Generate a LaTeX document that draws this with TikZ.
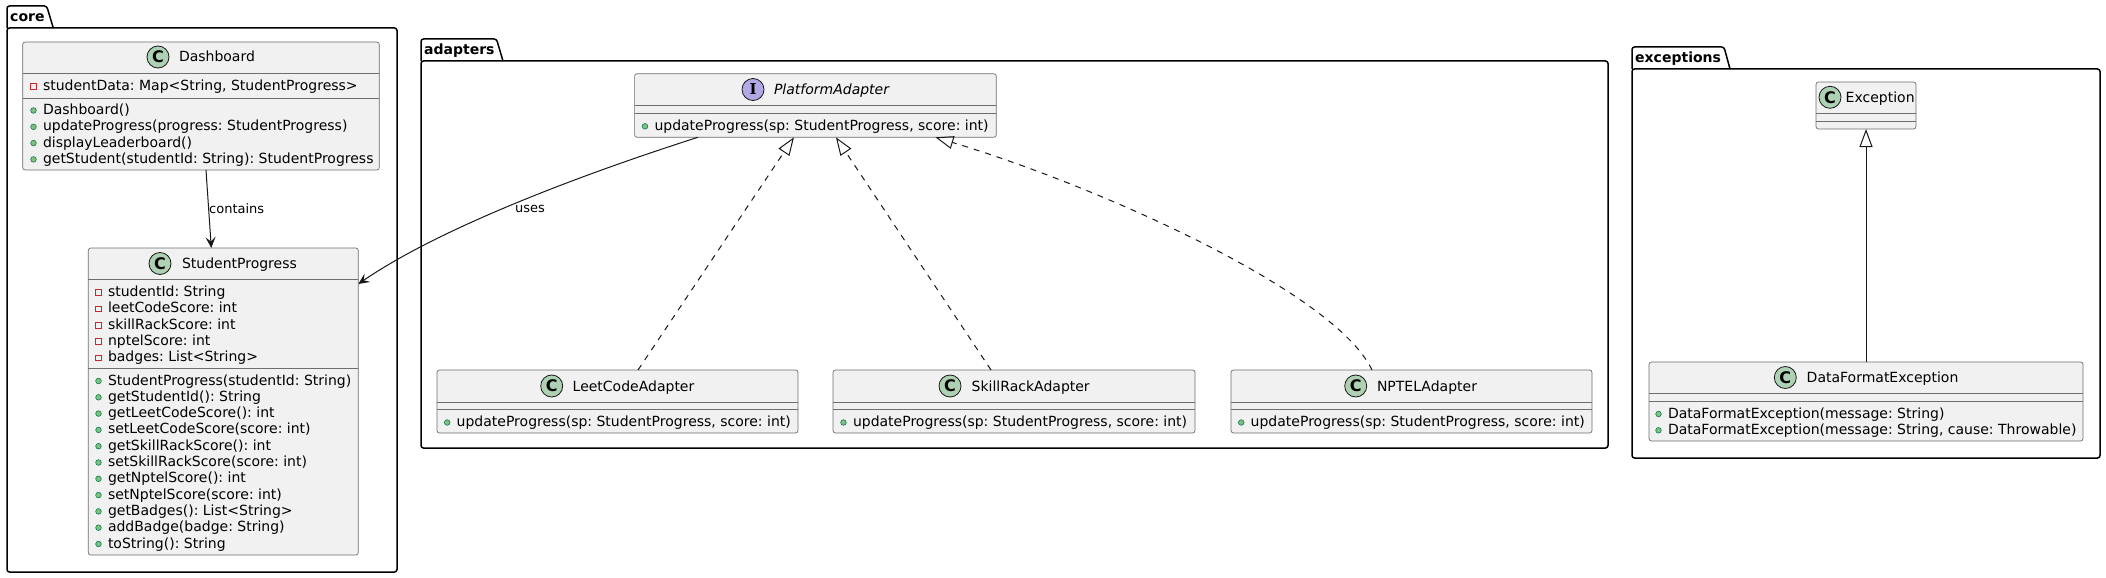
\documentclass[tikz,border=0pt]{standalone}
\usepackage{fontspec}
\setmainfont{DejaVu Sans}
\newfontfamily\badgeserif{DejaVu Serif}
\usetikzlibrary{arrows.meta,calc,fit}
\definecolor{boxfill}{HTML}{F1F1F1}
\definecolor{boxline}{HTML}{181818}
\definecolor{boxedge}{HTML}{6E6E6E}
\definecolor{cgreen}{HTML}{ADD1B2}
\definecolor{ipurple}{HTML}{B4A7E5}
\definecolor{privred}{HTML}{C82930}
\definecolor{pubfill}{HTML}{84BE84}
\definecolor{publine}{HTML}{038048}
\newcounter{umlmem}
\newcommand\umlbox[5]{\node[classbox, fit={(#2,#3) (#4,#5)}] (#1) {};}
\newcommand\umlsep[3]{\draw[sepline] (#1,#3) -- (#2,#3);}
\newcommand\pubm[3]{\stepcounter{umlmem}%
  \filldraw[pubmark] (#1-9.5,#2-4) circle (2.8pt);%
  \node[member] (mem\arabic{umlmem}) at (#1,#2) {#3};}
\newcommand\privm[3]{\stepcounter{umlmem}%
  \draw[privmark] (#1-12.3,#2-6.8) rectangle (#1-6.7,#2-1.2);%
  \node[member] (mem\arabic{umlmem}) at (#1,#2) {#3};}
\frenchspacing
\begin{document}
\begin{tikzpicture}[x=1pt,y=-1pt,
  classbox/.style={draw=boxedge, fill=boxfill, line width=0.7pt, rounded corners=2.5pt, inner sep=0pt, outer sep=0pt},
  sepline/.style={draw=boxedge, line width=0.7pt},
  member/.style={anchor=base west, inner sep=0pt, outer sep=0pt, font=\fontsize{14}{16.3}\selectfont\frenchspacing, text=black},
  pkgtitle/.style={anchor=base west, inner sep=0pt, font=\bfseries\fontsize{14}{16}\selectfont},
  lbl/.style={anchor=base west, inner sep=0pt, font=\fontsize{13}{15}\selectfont},
  pkg/.style={draw=black, line width=1.5pt, rounded corners=2.5pt},
  badge/.style={circle, draw=boxline, line width=0.8pt, minimum size=22pt, inner sep=0pt, font=\bfseries\fontsize{16}{16}\selectfont},
  cbadge/.style={badge, fill=cgreen},
  ibadge/.style={badge, fill=ipurple, font=\badgeserif\bfseries\fontsize{15}{15}\selectfont},
  pubmark/.style={fill=pubfill, draw=publine, line width=0.6pt},
  privmark/.style={draw=privred, line width=0.8pt},
  assoc/.style={draw=boxline, line width=1pt, -{Stealth[length=11pt, width=10pt, inset=4.5pt]}},
  realize/.style={draw=boxline, line width=1pt, dash pattern=on 6pt off 6pt, -{Triangle[open, length=18pt, width=13pt]}},
  extends/.style={draw=boxline, line width=1pt, -{Triangle[open, length=18pt, width=13pt]}}
]
\useasboundingbox (0,0) rectangle (2106,578);

% ---------- packages ----------
\draw[pkg] (7,28) rectangle (397,572);
\draw[pkg] (7,28) -- (7,6) -- (46.7,6) -- (53.3,28);
\node[pkgtitle] (coreT) at (10,22) {core};

\draw[pkg] (421,61) rectangle (1608,448);
\draw[pkg] (421,61) -- (421,39) -- (496.5,39) -- (503,61);
\node[pkgtitle] (adaptT) at (424,55) {adapters};

\draw[pkg] (1632,69) rectangle (2100,458);
\draw[pkg] (1632,69) -- (1632,47) -- (1724,47) -- (1730,69);
\node[pkgtitle] (excT) at (1635,63) {exceptions};

% ---------- Dashboard ----------
\umlbox{dash}{22.7}{42}{379.3}{170}
\umlsep{22.7}{379.3}{73}
\umlsep{22.7}{379.3}{98}
\node[cbadge] (dashC) at (158,57) {C};
\node[member] (dashT) at (179,62) {Dashboard};
\privm{43}{90.5}{studentData: Map<String, StudentProgress>}
\pubm{43}{114.5}{Dashboard()}
\pubm{43}{130.8}{updateProgress(progress: StudentProgress)}
\pubm{43}{147.1}{displayLeaderboard()}
\pubm{43}{163.4}{getStudent(studentId: String): StudentProgress}

% ---------- StudentProgress ----------
\umlbox{sp}{88.3}{248}{358.3}{555}
\umlsep{88.3}{358.3}{279}
\umlsep{88.3}{358.3}{368}
\node[cbadge] (spC) at (160,263.5) {C};
\node[member] (spT) at (182,268.5) {StudentProgress};
\privm{108}{296.5}{studentId: String}
\privm{108}{312.8}{leetCodeScore: int}
\privm{108}{329.1}{skillRackScore: int}
\privm{108}{345.4}{nptelScore: int}
\privm{108}{361.7}{badges: List<String>}
\pubm{108}{385}{StudentProgress(studentId: String)}
\pubm{108}{401.3}{getStudentId(): String}
\pubm{108}{417.6}{getLeetCodeScore(): int}
\pubm{108}{433.9}{setLeetCodeScore(score: int)}
\pubm{108}{450.2}{getSkillRackScore(): int}
\pubm{108}{466.5}{setSkillRackScore(score: int)}
\pubm{108}{482.8}{getNptelScore(): int}
\pubm{108}{499.1}{setNptelScore(score: int)}
\pubm{108}{515.4}{getBadges(): List<String>}
\pubm{108}{531.7}{addBadge(badge: String)}
\pubm{108}{548}{toString(): String}

% ---------- PlatformAdapter ----------
\umlbox{pa}{634.6}{73.7}{996.3}{137.3}
\umlsep{634.6}{996.3}{105.3}
\umlsep{634.6}{996.3}{113.3}
\node[ibadge] (paI) at (753,89.5) {I};
\node[member, font=\itshape\fontsize{14}{16.3}\selectfont] (paT) at (774,94.5) {PlatformAdapter};
\pubm{654.5}{130.3}{updateProgress(sp: StudentProgress, score: int)}

% ---------- adapters ----------
\umlbox{leet}{437}{370}{798}{433}
\umlsep{437}{798}{402}
\umlsep{437}{798}{409}
\node[cbadge] (leetC) at (551.7,386) {C};
\node[member] (leetT) at (572.7,391) {LeetCodeAdapter};
\pubm{456.7}{426.5}{updateProgress(sp: StudentProgress, score: int)}

\umlbox{skill}{833}{370}{1195}{433}
\umlsep{833}{1195}{402}
\umlsep{833}{1195}{409}
\node[cbadge] (skillC) at (950,386) {C};
\node[member] (skillT) at (971.7,391) {SkillRackAdapter};
\pubm{853}{426.5}{updateProgress(sp: StudentProgress, score: int)}

\umlbox{nptel}{1231}{370}{1592}{433}
\umlsep{1231}{1592}{402}
\umlsep{1231}{1592}{409}
\node[cbadge] (nptelC) at (1355.7,386) {C};
\node[member] (nptelT) at (1377,391) {NPTELAdapter};
\pubm{1250.7}{426.5}{updateProgress(sp: StudentProgress, score: int)}

% ---------- exceptions ----------
\umlbox{exc}{1816}{82}{1916}{129}
\umlsep{1816}{1916}{113}
\umlsep{1816}{1916}{121}
\node[cbadge] (excC) at (1830,97.3) {C};
\node[member] (excT) at (1845.7,102.5) {Exception};

\umlbox{dfe}{1649}{362}{2083}{441}
\umlsep{1649}{2083}{393}
\umlsep{1649}{2083}{401}
\node[cbadge] (dfeC) at (1785.3,377.5) {C};
\node[member] (dfeT) at (1806.7,382.5) {DataFormatException};
\pubm{1668}{418}{DataFormatException(message: String)}
\pubm{1668}{434.3}{DataFormatException(message: String, cause: Throwable)}

% ---------- connectors ----------
\draw[assoc] ($(dash.south)+(5,0)$) -- ($(sp.north)+(-12,0)$);
\node[lbl] (containsL) at (209,213) {contains};

\draw[assoc] ($(pa.south)+(-117.5,0)$) .. controls (580,175) and (440,228) .. ($(sp.north east)+(0,36)$);
\node[lbl] (usesL) at (515,212.5) {uses};

\draw[realize] ($(leet.north)+(20.5,0)$) -- ($(pa.south)+(-21.5,0)$);
\draw[realize] ($(skill.north)+(-23,0)$) -- ($(pa.south)+(20.5,0)$);
\draw[realize] ($(nptel.north)+(-39.5,0)$) .. controls (1335,292) and (1100,187) .. ($(pa.south)+(120,0)$);
\draw[extends] (dfe.north) -- (exc.south);
\end{tikzpicture}
\end{document}
